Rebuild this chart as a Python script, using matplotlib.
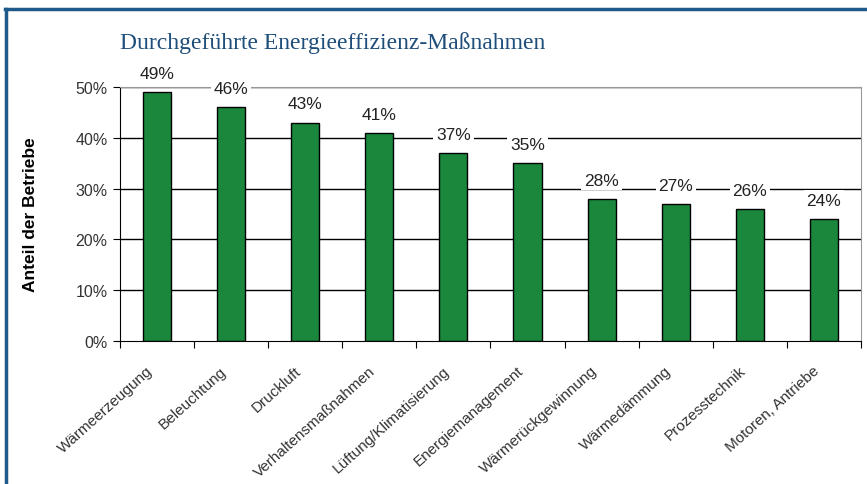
import numpy as np
import matplotlib.pyplot as plt
import matplotlib.transforms as mtransforms
from matplotlib.lines import Line2D

categories = ["Wärmeerzeugung", "Beleuchtung", "Druckluft", "Verhaltensmaßnahmen",
              "Lüftung/Klimatisierung", "Energiemanagement", "Wärmerückgewinnung",
              "Wärmedämmung", "Prozesstechnik", "Motoren, Antriebe"]
values = [49, 46, 43, 41, 37, 35, 28, 27, 26, 24]
yticks = [0, 10, 20, 30, 40, 50]

fig = plt.figure(figsize=(8.67, 4.85), dpi=100)
ax = fig.add_axes([0.1384, 0.2948, 0.8546, 0.5238])

x = np.arange(len(categories))
ax.bar(x, values, width=0.38, color='#1b873d', edgecolor='black', lw=1, zorder=2)

for xi, v in zip(x, values):
	ax.annotate(f"{v}%", (xi, v), xytext=(0, 8), textcoords='offset points',
				ha='center', va='bottom', fontsize=12.5, color='#222222',
				family='Liberation Sans', zorder=4, annotation_clip=False,
				bbox=dict(facecolor='white', edgecolor='none', pad=2))

ax.set_xlim(-0.5, len(categories) - 0.5)
ax.set_ylim(0, 50)
ax.set_yticks(yticks)
ax.set_yticklabels([f"{t}%" for t in yticks], fontsize=11.5, color='#333333', family='Liberation Sans')
for t in yticks[1:]:
	ax.axhline(t, color='black', lw=1, zorder=1)

ax.set_xticks(np.arange(len(categories) + 1) - 0.5)
ax.set_xticklabels([])
ax.set_xticks(x, minor=True)
ax.set_xticklabels(categories, minor=True, rotation=42, ha='right', va='top', rotation_mode='anchor',
				   fontsize=11, color='#333333', family='Liberation Sans')
ax.tick_params(axis='x', which='minor', length=0, pad=14)
ax.tick_params(axis='x', which='major', length=5, direction='out', color='black')
ax.tick_params(axis='y', length=5, direction='out', color='black', pad=4)

# Beschriftungen etwas nach links verschieben
shift = mtransforms.ScaledTranslation(-8 / 72, -2 / 72, fig.dpi_scale_trans)
for lab in ax.get_xticklabels(minor=True):
	lab.set_transform(lab.get_transform() + shift)

ax.spines['left'].set_color('black')
ax.spines['bottom'].set_color('black')
ax.spines['top'].set_color('#999999')
ax.spines['right'].set_color('#999999')

ax.set_ylabel("Anteil der Betriebe", fontsize=12.5, fontweight='bold', family='Liberation Sans')
ax.yaxis.set_label_coords(-0.11, 0.5)

fig.text(0.138, 0.912, "Durchgeführte Energieeffizienz-Maßnahmen", fontsize=17, color='#1f4e7a',
		 family='Liberation Serif', va='center', ha='left')

# dunkelblauer Rahmen oben und links
fig.add_artist(Line2D([0.006, 1.0], [0.98, 0.98], color='#1f5a8a', lw=2.5, transform=fig.transFigure))
fig.add_artist(Line2D([0.007, 0.007], [0.0, 0.98], color='#1f5a8a', lw=2.5, transform=fig.transFigure))

fig.savefig("out.png", dpi=100)
